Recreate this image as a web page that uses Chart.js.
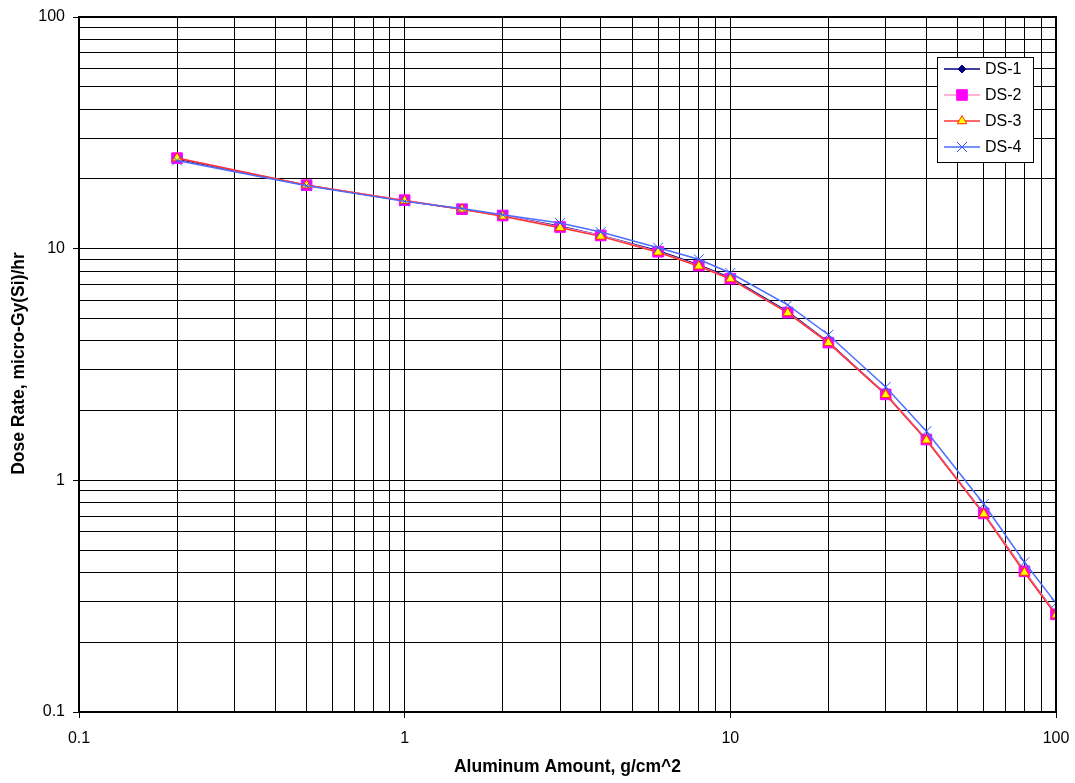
<!DOCTYPE html>
<html>
<head>
<meta charset="utf-8">
<title>Dose Rate vs Aluminum Amount</title>
<script src="https://cdn.jsdelivr.net/npm/chart.js@4/dist/chart.umd.min.js"></script>
<style>
    html, body { margin: 0; padding: 0; background: #fff; }
    #wrap { width: 1075px; height: 783px; }
</style>
</head>
<body>
<div id="wrap"><canvas id="doseChart" width="1075" height="783"></canvas></div>
<script>
// ---- data ----
const aluminum = [0.2, 0.5, 1, 1.5, 2, 3, 4, 6, 8, 10, 15, 20, 30, 40, 60, 80, 100];
const ds1 = [24.4, 18.8, 16.1, 14.8, 13.9, 12.5, 11.4, 9.8, 8.5, 7.5, 5.35, 3.95, 2.36, 1.5, 0.72, 0.405, 0.265];
const ds2 = [24.6, 18.8, 16.2, 14.8, 13.9, 12.4, 11.4, 9.7, 8.45, 7.42, 5.3, 3.93, 2.35, 1.5, 0.72, 0.405, 0.264];
const ds3 = [24.6, 18.8, 16.1, 14.8, 13.8, 12.3, 11.3, 9.65, 8.4, 7.4, 5.28, 3.92, 2.34, 1.49, 0.715, 0.4, 0.262];
const ds4 = [24.0, 18.7, 16.0, 14.9, 14.0, 12.9, 11.8, 10.1, 9.0, 7.85, 5.72, 4.25, 2.53, 1.63, 0.79, 0.443, 0.295];

const decades = [0.1, 1, 10, 100];
const decadeLabels = ['0.1', '1', '10', '100'];
const gridSteps = [1, 2, 3, 4, 5, 6, 7, 8, 9];

const xTitle = 'Aluminum Amount, g/cm^2';
const yTitle = 'Dose Rate, micro-Gy(Si)/hr';

// grid positions: every 1..9 step inside each decade
function gridValues() {
    const vals = [];
    for (let d = 0; d < decades.length - 1; d++) {
        gridSteps.forEach(s => vals.push(+(decades[d] * s).toPrecision(3)));
    }
    vals.push(decades[decades.length - 1]);
    return vals;
}

function decadeLabel(v) {
    const i = decades.findIndex(d => Math.abs(d - v) < 1e-9);
    return i >= 0 ? decadeLabels[i] : '';
}

function isDecade(v) {
    return decades.some(d => Math.abs(d - v) < 1e-9);
}

function pts(ys) {
    return aluminum.map((x, i) => ({ x: x, y: ys[i] }));
}

const series = [
    { label: 'DS-1', data: ds1, line: '#000080', fill: '#000080', stroke: '#000080', style: 'rectRot', radius: 4, order: 3 },
    { label: 'DS-2', data: ds2, line: '#FF99CC', fill: '#FF00FF', stroke: '#FF00FF', style: 'rect', radius: 7.5, order: 2 },
    { label: 'DS-3', data: ds3, line: '#FF3333', fill: '#FFFF00', stroke: '#FF3300', style: 'triangle', radius: 5.5, order: 1 },
    { label: 'DS-4', data: ds4, line: '#4D6DFF', fill: '#4D6DFF', stroke: '#3355FF', style: 'crossRot', radius: 7, order: 0 }
];

// ---- legend box inside the plot + frame + axis titles ----
const decorations = {
    id: 'decorations',
    afterDatasetsDraw(chart) {
        const ctx = chart.ctx;
        const a = chart.chartArea;
        ctx.save();

        // frame
        ctx.strokeStyle = '#000';
        ctx.lineWidth = 2;
        ctx.strokeRect(a.left, a.top, a.right - a.left, a.bottom - a.top);

        // legend
        const lx = 937, ly = 57, lw = 96, lh = 105;
        ctx.fillStyle = '#fff';
        ctx.fillRect(lx, ly, lw, lh);
        ctx.lineWidth = 1;
        ctx.strokeStyle = '#000';
        ctx.strokeRect(lx + 0.5, ly + 0.5, lw, lh);

        ctx.font = '16px "Liberation Sans", Arial, sans-serif';
        ctx.textBaseline = 'middle';
        ctx.textAlign = 'left';
        series.forEach((s, i) => {
            const y = 69 + i * 26;
            ctx.strokeStyle = s.line;
            ctx.lineWidth = 1.5;
            ctx.beginPath();
            ctx.moveTo(944, y);
            ctx.lineTo(980, y);
            ctx.stroke();
            ctx.fillStyle = s.fill;
            ctx.strokeStyle = s.stroke;
            ctx.lineWidth = 1;
            Chart.helpers.drawPoint(ctx, { pointStyle: s.style, radius: s.radius, rotation: 0, borderWidth: 1 }, 962, y);
            ctx.fillStyle = '#000';
            ctx.fillText(s.label, 985, y + 1);
        });

        // axis titles
        ctx.fillStyle = '#000';
        ctx.font = 'bold 17.5px "Liberation Sans", Arial, sans-serif';
        ctx.textAlign = 'center';
        ctx.fillText(xTitle, (a.left + a.right) / 2, 767);
        ctx.translate(19, (a.top + a.bottom) / 2 - 1);
        ctx.rotate(-Math.PI / 2);
        ctx.fillText(yTitle, 0, 0);
        ctx.restore();
    }
};

function logAxis(fixSize, pad) {
    return {
        type: 'logarithmic',
        min: 0.1,
        max: 100,
        afterBuildTicks(scale) {
            scale.ticks = gridValues().map(v => ({ value: v }));
        },
        afterFit: fixSize,
        ticks: {
            autoSkip: false,
            maxRotation: 0,
            color: '#000',
            padding: pad,
            font: { size: 16 },
            callback: function(value) {
                return decadeLabel(value);
            }
        },
        grid: {
            color: '#000',
            lineWidth: 1,
            tickLength: 6,
            tickColor: function(c) {
                return c.tick && isDecade(c.tick.value) ? '#000' : 'rgba(0,0,0,0)';
            }
        },
        border: { display: true, color: '#000', width: 2 }
    };
}

document.addEventListener('DOMContentLoaded', function() {
    Chart.defaults.font.family = '"Liberation Sans", Arial, sans-serif';
    Chart.defaults.color = '#000';

    new Chart(document.getElementById('doseChart'), {
        type: 'line',
        data: {
            datasets: series.map(s => ({
                label: s.label,
                data: pts(s.data),
                order: s.order,
                borderColor: s.line,
                borderWidth: 1.5,
                backgroundColor: s.fill,
                pointStyle: s.style,
                pointRadius: s.radius,
                pointBackgroundColor: s.fill,
                pointBorderColor: s.stroke,
                pointBorderWidth: 1,
                tension: 0,
                fill: false
            }))
        },
        options: {
            responsive: false,
            animation: false,
            devicePixelRatio: 1,
            layout: { padding: { top: 17, right: 19, left: 0, bottom: 0 } },
            plugins: {
                legend: { display: false },
                tooltip: { enabled: false }
            },
            scales: {
                x: logAxis(function(scale) {
                    scale.height = 71;
                    scale.paddingLeft = 0;
                    scale.paddingRight = 0;
                }, 11),
                y: logAxis(function(scale) {
                    scale.width = 79;
                    scale.paddingTop = 0;
                    scale.paddingBottom = 0;
                }, 8)
            }
        },
        plugins: [decorations]
    });
});
</script>
</body>
</html>
